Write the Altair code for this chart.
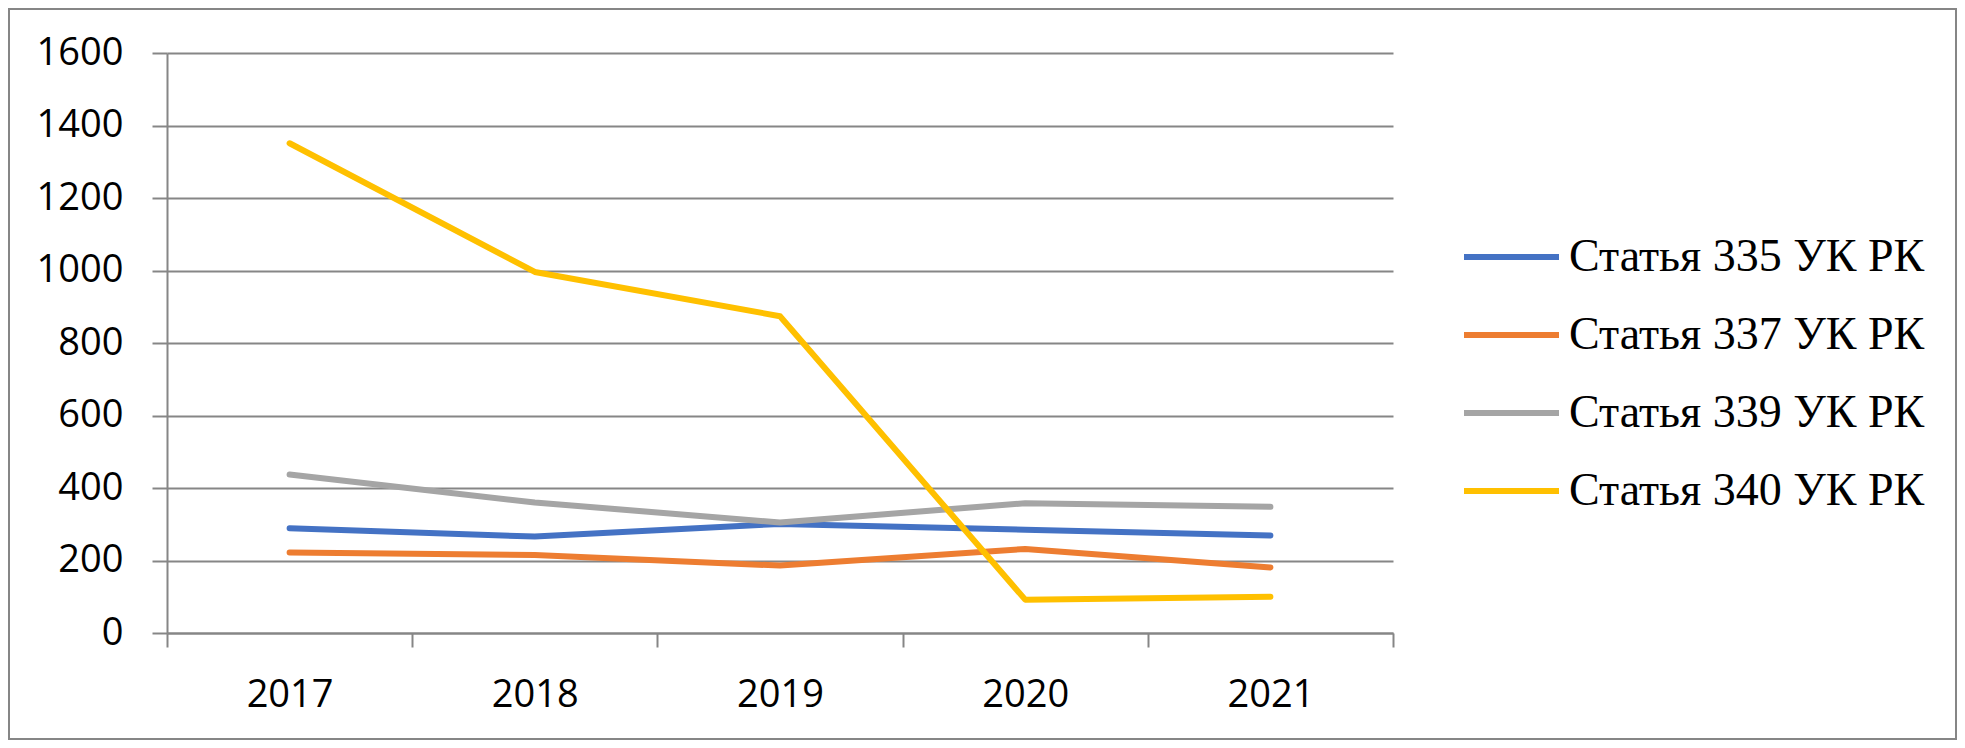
import altair as alt
import pandas as pd

years = ["2017", "2018", "2019", "2020", "2021"]
series = ["Статья 335 УК РК", "Статья 337 УК РК", "Статья 339 УК РК", "Статья 340 УК РК"]
v335 = [289, 266, 301, 285, 269]
v337 = [222, 215, 186, 232, 181]
v339 = [437, 360, 305, 358, 348]
v340 = [1351, 996, 874, 92, 100]
colors = ["#4472C4", "#ED7D31", "#A5A5A5", "#FFC000"]
y_ticks = [0, 200, 400, 600, 800, 1000, 1200, 1400, 1600]

rows = []
for name, vals in zip(series, [v335, v337, v339, v340]):
    for yr, v in zip(years, vals):
        rows.append({"year": yr, "series": name, "value": v})
df = pd.DataFrame(rows)

GRAY = "#868686"

lines = alt.Chart(df).mark_line(strokeWidth=6, strokeCap="round", strokeJoin="round").encode(
    x=alt.X("year:N", sort=years, bandPosition=0.5,
            scale=alt.Scale(type="band", paddingInner=0, paddingOuter=0),
            axis=alt.Axis(title=None, labelAngle=0, tickBand="extent", tickSize=14,
                          tickColor=GRAY, tickWidth=2, domainColor=GRAY, domainWidth=2,
                          labelFont="Open Sans", labelFontSize=38, labelColor="black",
                          labelPadding=29, grid=False)),
    y=alt.Y("value:Q", scale=alt.Scale(domain=[0, 1600], nice=False),
            axis=alt.Axis(title=None, values=y_ticks, format="d", grid=True,
                          gridColor=GRAY, gridWidth=2, tickSize=15, tickColor=GRAY,
                          tickWidth=2, domainColor=GRAY, domainWidth=2,
                          labelFont="Open Sans", labelFontSize=38, labelColor="black",
                          labelPadding=29)),
    color=alt.Color("series:N", sort=series,
                    scale=alt.Scale(domain=series, range=colors),
                    legend=alt.Legend(orient="none", legendX=1294, legendY=168, title=None,
                                      symbolType="stroke", symbolSize=9025,
                                      symbolStrokeWidth=6, labelFont="Liberation Serif",
                                      labelFontSize=46, labelColor="black", labelOffset=7,
                                      clipHeight=72, rowPadding=6, padding=0,
                                      labelLimit=1000)),
)

frame = alt.Chart(pd.DataFrame({"a": [0]})).mark_rect(
    fill="transparent", stroke=GRAY, strokeWidth=2
).encode(
    x=alt.value(-158), x2=alt.value(1789), y=alt.value(-44), y2=alt.value(686)
)

chart = alt.layer(lines, frame).properties(
    width=1226, height=580,
    autosize=alt.AutoSizeParams(type="none"),
    padding={"left": 159, "top": 45, "right": 564, "bottom": 107},
    background="white",
).configure_view(stroke=None)

chart.save("out.html", embed_options={"renderer": "svg", "actions": False})
